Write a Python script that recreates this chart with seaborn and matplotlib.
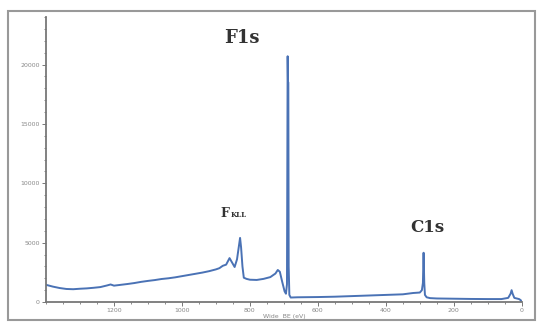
import matplotlib
matplotlib.use("Agg")
import matplotlib.pyplot as plt
import seaborn as sns
import pandas as pd
from matplotlib.patches import Rectangle
from matplotlib.ticker import MultipleLocator

# Binding energy (eV) and intensity (counts)
energy = [1400, 1380, 1360, 1340, 1320, 1300, 1280, 1260, 1240, 1220, 1210, 1200,
          1180, 1160, 1140, 1120, 1100, 1080, 1060, 1040, 1020, 1000, 980, 960,
          940, 920, 900, 890, 880, 870, 860, 852, 845, 838, 832, 829, 826, 822,
          818, 810, 800, 780, 760, 740, 725, 718, 712, 705, 698, 694, 691, 689,
          688, 687, 686, 684, 680, 660, 600, 550, 500, 450, 400, 350, 320, 300,
          294, 291, 289, 287, 285, 280, 270, 250, 200, 150, 100, 60, 40, 33, 30,
          27, 22, 15, 8, 3, 0]
intensity = [1450, 1300, 1180, 1100, 1080, 1120, 1150, 1200, 1260, 1400, 1480, 1380,
             1450, 1520, 1600, 1700, 1780, 1850, 1940, 2000, 2080, 2180, 2280, 2380,
             2480, 2600, 2750, 2850, 3050, 3150, 3700, 3300, 2950, 3600, 4800, 5400, 4600, 3000,
             2050, 1950, 1880, 1860, 1950, 2100, 2400, 2700, 2550, 1700, 900, 700, 1500, 20700,
             18500, 18500, 3000, 600, 380, 400, 420, 450, 500, 550, 600, 650, 760, 800,
             1000, 1600, 4150, 1600, 600, 400, 330, 300, 280, 260, 250, 250, 350, 700, 1000,
             700, 350, 300, 250, 150, 0]

x_ticks = [0, 200, 400, 600, 800, 1000, 1200]
y_ticks = [0, 5000, 10000, 15000, 20000]

df = pd.DataFrame({"energy": energy, "intensity": intensity})

sns.set_theme(style="white")
fig = plt.figure(figsize=(5.37, 3.22), dpi=100)
ax = fig.add_axes([0.0857, 0.062, 0.886, 0.885])

sns.lineplot(data=df, x="energy", y="intensity", sort=False, estimator=None,
             color="#4a72b5", linewidth=1.4, ax=ax)

ax.set_xlim(1400, 0)
ax.set_ylim(0, 24000)
ax.set_xticks(x_ticks)
ax.set_yticks(y_ticks)
ax.xaxis.set_minor_locator(MultipleLocator(50))
ax.yaxis.set_minor_locator(MultipleLocator(1000))
ax.tick_params(axis="both", which="major", labelsize=4.5, colors="#777777",
               length=3, width=0.7, direction="out", pad=1.5)
ax.tick_params(axis="both", which="minor", length=1.5, width=0.6,
               colors="#777777", direction="out")
ax.tick_params(axis="both", which="both", bottom=True, left=True)
for lab in ax.get_xticklabels() + ax.get_yticklabels():
    lab.set_color("#888888")

for s in ["top", "right"]:
    ax.spines[s].set_visible(False)
for s in ["left", "bottom"]:
    ax.spines[s].set_color("#777777")
    ax.spines[s].set_linewidth(1.3)

ax.set_xlabel("Wide  BE (eV)", fontsize=4.5, color="#888888", labelpad=0.5)
ax.set_ylabel("")
ax.grid(False)

ax.text(824, 21780, "F1s", fontsize=13, fontweight="bold", family="DejaVu Serif",
        color="#333333", ha="center", va="baseline")
ax.text(279, 5930, "C1s", fontsize=12, fontweight="bold", family="DejaVu Serif",
        color="#333333", ha="center", va="baseline")
ax.text(888, 7200, "F", fontsize=9, fontweight="bold", family="DejaVu Serif",
        color="#333333", ha="left", va="baseline")
ax.text(856, 7200, "KLL", fontsize=5, fontweight="bold", family="DejaVu Serif",
        color="#333333", ha="left", va="baseline")

fig.patches.append(Rectangle((8 / 537, 2 / 322), 527 / 537, 309 / 322,
                             transform=fig.transFigure, fill=False,
                             edgecolor="#999999", linewidth=1.5))

fig.savefig("out.png", dpi=100)
